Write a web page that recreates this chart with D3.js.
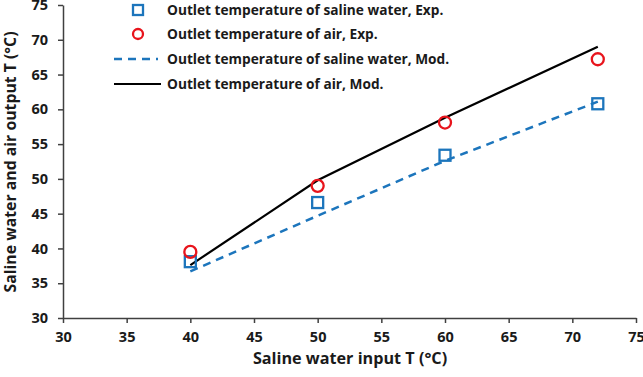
<!DOCTYPE html>
<html><head><meta charset="utf-8">
<script src="https://cdn.jsdelivr.net/npm/d3@7"></script>
<style>body{margin:0;background:#fff}svg{display:block}text{font-family:"Open Sans",sans-serif;font-weight:bold}</style>
</head><body><svg id="c" width="643" height="377"></svg>
<script>
const xInput = [40, 50, 60, 72];
const waterExp = [38.1, 46.6, 53.4, 60.8];
const airExp = [39.5, 49.0, 58.1, 67.2];
const waterMod = [36.7, 44.7, 52.6, 61.1];
const airMod = [37.6, 49.8, 58.8, 69.0];
const xTicks = [30,35,40,45,50,55,60,65,70,75];
const yTicks = [30,35,40,45,50,55,60,65,70,75];
const legendLabels = ["Outlet temperature of saline water, Exp.","Outlet temperature of air, Exp.","Outlet temperature of saline water, Mod.","Outlet temperature of air, Mod."];

const svg = d3.select("#c");
const x = d3.scaleLinear().domain([30,75]).range([63,636]);
const y = d3.scaleLinear().domain([30,75]).range([318,5]);
const axisCol = "#404040";
const blue = "#1C75BC", red = "#E8141C";

const xa = svg.append("g").attr("transform","translate(0,318)")
  .call(d3.axisBottom(x).tickValues(xTicks).tickSize(5).tickSizeOuter(0).tickPadding(9));
const ya = svg.append("g").attr("transform","translate(63,0)")
  .call(d3.axisLeft(y).tickValues(yTicks).tickSize(5).tickSizeOuter(0).tickPadding(10));
[xa,ya].forEach(a=>{a.selectAll("path,line").attr("stroke",axisCol).attr("stroke-width",1.5);
  a.selectAll("text").attr("font-size",14.5).attr("fill","#1a1a1a").attr("font-family","'Open Sans',sans-serif").attr("font-weight","bold");});

svg.append("text").attr("x",350).attr("y",364).attr("text-anchor","middle").attr("font-size",16.2).attr("fill","#1a1a1a").text("Saline water input T (°C)");
svg.append("text").attr("transform","translate(16,162) rotate(-90)").attr("text-anchor","middle").attr("font-size",15.8).attr("fill","#1a1a1a").text("Saline water and air output T (°C)");

const line = d3.line().x(d=>x(d[0])).y(d=>y(d[1]));
svg.append("path").datum(xInput.map((v,i)=>[v,waterMod[i]])).attr("d",line).attr("fill","none").attr("stroke",blue).attr("stroke-width",2.5).attr("stroke-dasharray","8,6");
svg.append("path").datum(xInput.map((v,i)=>[v,airMod[i]])).attr("d",line).attr("fill","none").attr("stroke","#000").attr("stroke-width",2.2);

svg.selectAll(".sq").data(xInput.map((v,i)=>[v,waterExp[i]])).enter().append("rect")
  .attr("x",d=>x(d[0])-5.5).attr("y",d=>y(d[1])-5.5).attr("width",11).attr("height",11)
  .attr("fill","none").attr("stroke",blue).attr("stroke-width",2.3);
svg.selectAll(".ci").data(xInput.map((v,i)=>[v,airExp[i]])).enter().append("circle")
  .attr("cx",d=>x(d[0])).attr("cy",d=>y(d[1])).attr("r",6)
  .attr("fill","none").attr("stroke",red).attr("stroke-width",2.3);

// legend
const ly = [10, 34, 59, 84];
const lg = svg.append("g");
lg.append("rect").attr("x",133).attr("y",ly[0]-5).attr("width",10).attr("height",10).attr("fill","none").attr("stroke",blue).attr("stroke-width",2.3);
lg.append("circle").attr("cx",138).attr("cy",ly[1]).attr("r",5).attr("fill","none").attr("stroke",red).attr("stroke-width",2.3);
lg.append("line").attr("x1",114).attr("x2",158).attr("y1",ly[2]).attr("y2",ly[2]).attr("stroke",blue).attr("stroke-width",2.5).attr("stroke-dasharray","8,6");
lg.append("line").attr("x1",114).attr("x2",161).attr("y1",ly[3]).attr("y2",ly[3]).attr("stroke","#000").attr("stroke-width",2.2);
legendLabels.forEach((t,i)=>lg.append("text").attr("x",167).attr("y",ly[i]).attr("dy","0.35em").attr("font-size",13.7).attr("fill","#1a1a1a").text(t));
</script></body></html>
